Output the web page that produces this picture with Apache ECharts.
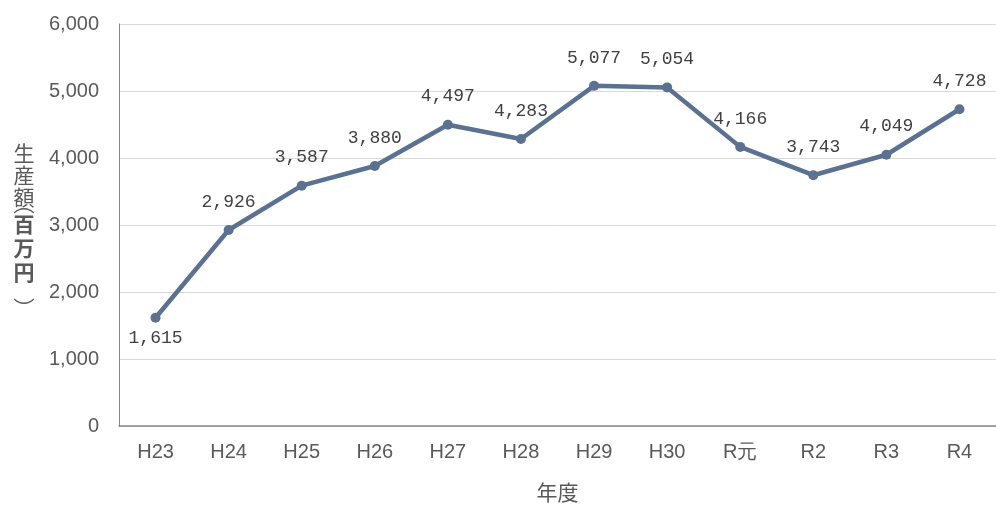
<!DOCTYPE html>
<html>
<head>
<meta charset="utf-8">
<script src="https://cdn.jsdelivr.net/npm/echarts@6/dist/echarts.min.js"></script>
<style>
  html, body { margin: 0; padding: 0; background: #fff; }
  #chart { width: 996px; height: 508px; }
</style>
</head>
<body>
<div id="chart"></div>
<script>
// Fiscal years (Heisei / Reiwa)
const years = ['H23', 'H24', 'H25', 'H26', 'H27', 'H28', 'H29', 'H30', 'R元', 'R2', 'R3', 'R4'];
// Production value, million yen
const production = [1615, 2926, 3587, 3880, 4497, 4283, 5077, 5054, 4166, 3743, 4049, 4728];
const yTicks = [0, 1000, 2000, 3000, 4000, 5000, 6000];

const chart = echarts.init(document.getElementById('chart'), null, { renderer: 'canvas' });

const fmt = v => v.toLocaleString('en-US');
const GRAY = '#595959';
const CJK = '"Noto Sans CJK JP"';

const data = production.map((v, i) => ({
  value: v,
  label: i === 0 ? { position: 'bottom', distance: 6 } : undefined
}));

// Vertical axis title, one glyph per element (vertical-form brackets ︵ ︶)
const titleX = 24;
const glyph = (ch, top, bold) => ({
  type: 'text', x: titleX, y: top,
  style: {
    text: ch, fill: GRAY, align: 'center', verticalAlign: 'top',
    font: (bold ? 'bold ' : '') + '21px ' + CJK
  }
});
const bracket = (ch, cy) => ({
  type: 'text', x: titleX, y: cy,
  style: { text: ch, fill: GRAY, align: 'center', verticalAlign: 'middle', font: '21px ' + CJK }
});

chart.setOption({
  animation: false,
  grid: { left: 119, right: 0, top: 24, bottom: 79 },
  xAxis: {
    type: 'category',
    data: years,
    name: '年度',
    nameLocation: 'middle',
    nameGap: 56,
    nameTextStyle: { color: GRAY, fontSize: 21, fontFamily: 'Noto Sans CJK JP' },
    axisLine: { lineStyle: { color: '#868686', width: 1.5 } },
    axisTick: { show: false },
    axisLabel: { color: GRAY, fontSize: 20, fontFamily: 'Liberation Sans', margin: 16 }
  },
  yAxis: {
    type: 'value',
    min: yTicks[0],
    max: yTicks[yTicks.length - 1],
    interval: 1000,
    axisLine: { show: true, lineStyle: { color: '#868686', width: 1 } },
    axisTick: { show: false },
    splitLine: { lineStyle: { color: '#d9d9d9', width: 1 } },
    axisLabel: {
      color: GRAY, fontSize: 20, fontFamily: 'Liberation Sans', margin: 20,
      formatter: v => fmt(v)
    }
  },
  graphic: [
    glyph('生', 143), glyph('産', 165), glyph('額', 187),
    bracket('︵', 203),
    glyph('百', 214, true), glyph('万', 238, true), glyph('円', 262, true),
    bracket('︶', 308)
  ],
  series: [{
    type: 'line',
    data: data,
    symbol: 'circle',
    symbolSize: 10,
    lineStyle: { color: '#5a7191', width: 4.5 },
    itemStyle: { color: '#5a7191' },
    label: {
      show: true,
      position: 'top',
      distance: 14,
      color: '#404040',
      fontSize: 18,
      fontFamily: 'Liberation Mono',
      formatter: p => fmt(p.value)
    }
  }]
});
</script>
</body>
</html>
